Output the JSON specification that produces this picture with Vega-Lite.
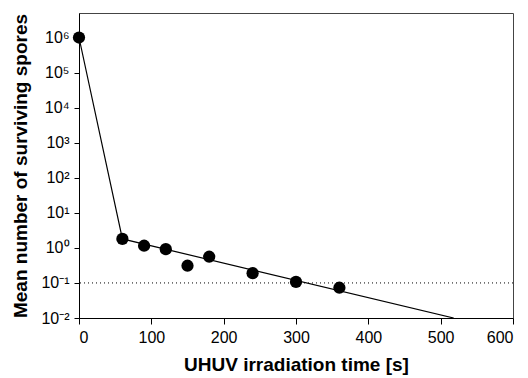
{
  "$schema": "https://vega.github.io/schema/vega-lite/v6.json",
  "width": 434,
  "height": 305,
  "autosize": "none",
  "padding": {"left": 79, "top": 13, "right": 15, "bottom": 60},
  "background": "white",
  "config": {
    "view": {"stroke": "#444", "strokeWidth": 1},
    "font": "Liberation Sans",
    "axis": {
      "grid": false,
      "domainColor": "black",
      "tickColor": "black",
      "labelColor": "black",
      "titleColor": "black",
      "labelFontSize": 16,
      "titleFontSize": 19,
      "titleFontWeight": "bold",
      "labelFont": "Liberation Sans",
      "titleFont": "Liberation Sans"
    }
  },
  "datasets": {
    "pts": [
      {"time": 0, "spores": 1000000},
      {"time": 60, "spores": 1.8},
      {"time": 90, "spores": 1.15},
      {"time": 120, "spores": 0.92},
      {"time": 150, "spores": 0.31},
      {"time": 180, "spores": 0.56},
      {"time": 240, "spores": 0.19},
      {"time": 300, "spores": 0.107},
      {"time": 360, "spores": 0.073}
    ],
    "fit": [
      {"time": 0, "spores": 1000000},
      {"time": 60, "spores": 1.8},
      {"time": 518, "spores": 0.01}
    ],
    "limit": [{"spores": 0.1}]
  },
  "layer": [
    {
      "data": {"name": "limit"},
      "mark": {"type": "rule", "color": "black", "strokeWidth": 1, "strokeDash": [1, 3]},
      "encoding": {
        "y": {"field": "spores", "type": "quantitative", "scale": {"type": "log", "domain": [0.01, 5000000]}}
      }
    },
    {
      "data": {"name": "fit"},
      "mark": {"type": "line", "color": "black", "strokeWidth": 1.2, "clip": true},
      "encoding": {
        "x": {"field": "time", "type": "quantitative"},
        "y": {"field": "spores", "type": "quantitative"}
      }
    },
    {
      "data": {"name": "pts"},
      "mark": {"type": "point", "filled": true, "color": "black", "opacity": 1, "size": 150},
      "encoding": {
        "x": {
          "field": "time", "type": "quantitative",
          "scale": {"domain": [0, 600], "nice": false},
          "axis": {"values": [0, 100, 200, 300, 400, 500, 600], "title": "UHUV irradiation time [s]", "tickSize": 6, "labelPadding": 5, "titlePadding": 10}
        },
        "y": {
          "field": "spores", "type": "quantitative",
          "scale": {"type": "log", "domain": [0.01, 5000000], "nice": false},
          "axis": {
            "values": [0.01, 0.1, 1, 10, 100, 1000, 10000, 100000, 1000000],
            "labelExpr": "'10' + (round(log(datum.value)/LN10) == -2 ? '⁻²' : round(log(datum.value)/LN10) == -1 ? '⁻¹' : round(log(datum.value)/LN10) == 0 ? '⁰' : round(log(datum.value)/LN10) == 1 ? '¹' : round(log(datum.value)/LN10) == 2 ? '²' : round(log(datum.value)/LN10) == 3 ? '³' : round(log(datum.value)/LN10) == 4 ? '⁴' : round(log(datum.value)/LN10) == 5 ? '⁵' : '⁶')",
            "title": "Mean number of surviving spores",
            "tickSize": 5,
            "labelPadding": 5,
            "titlePadding": 10
          }
        }
      }
    }
  ]
}
